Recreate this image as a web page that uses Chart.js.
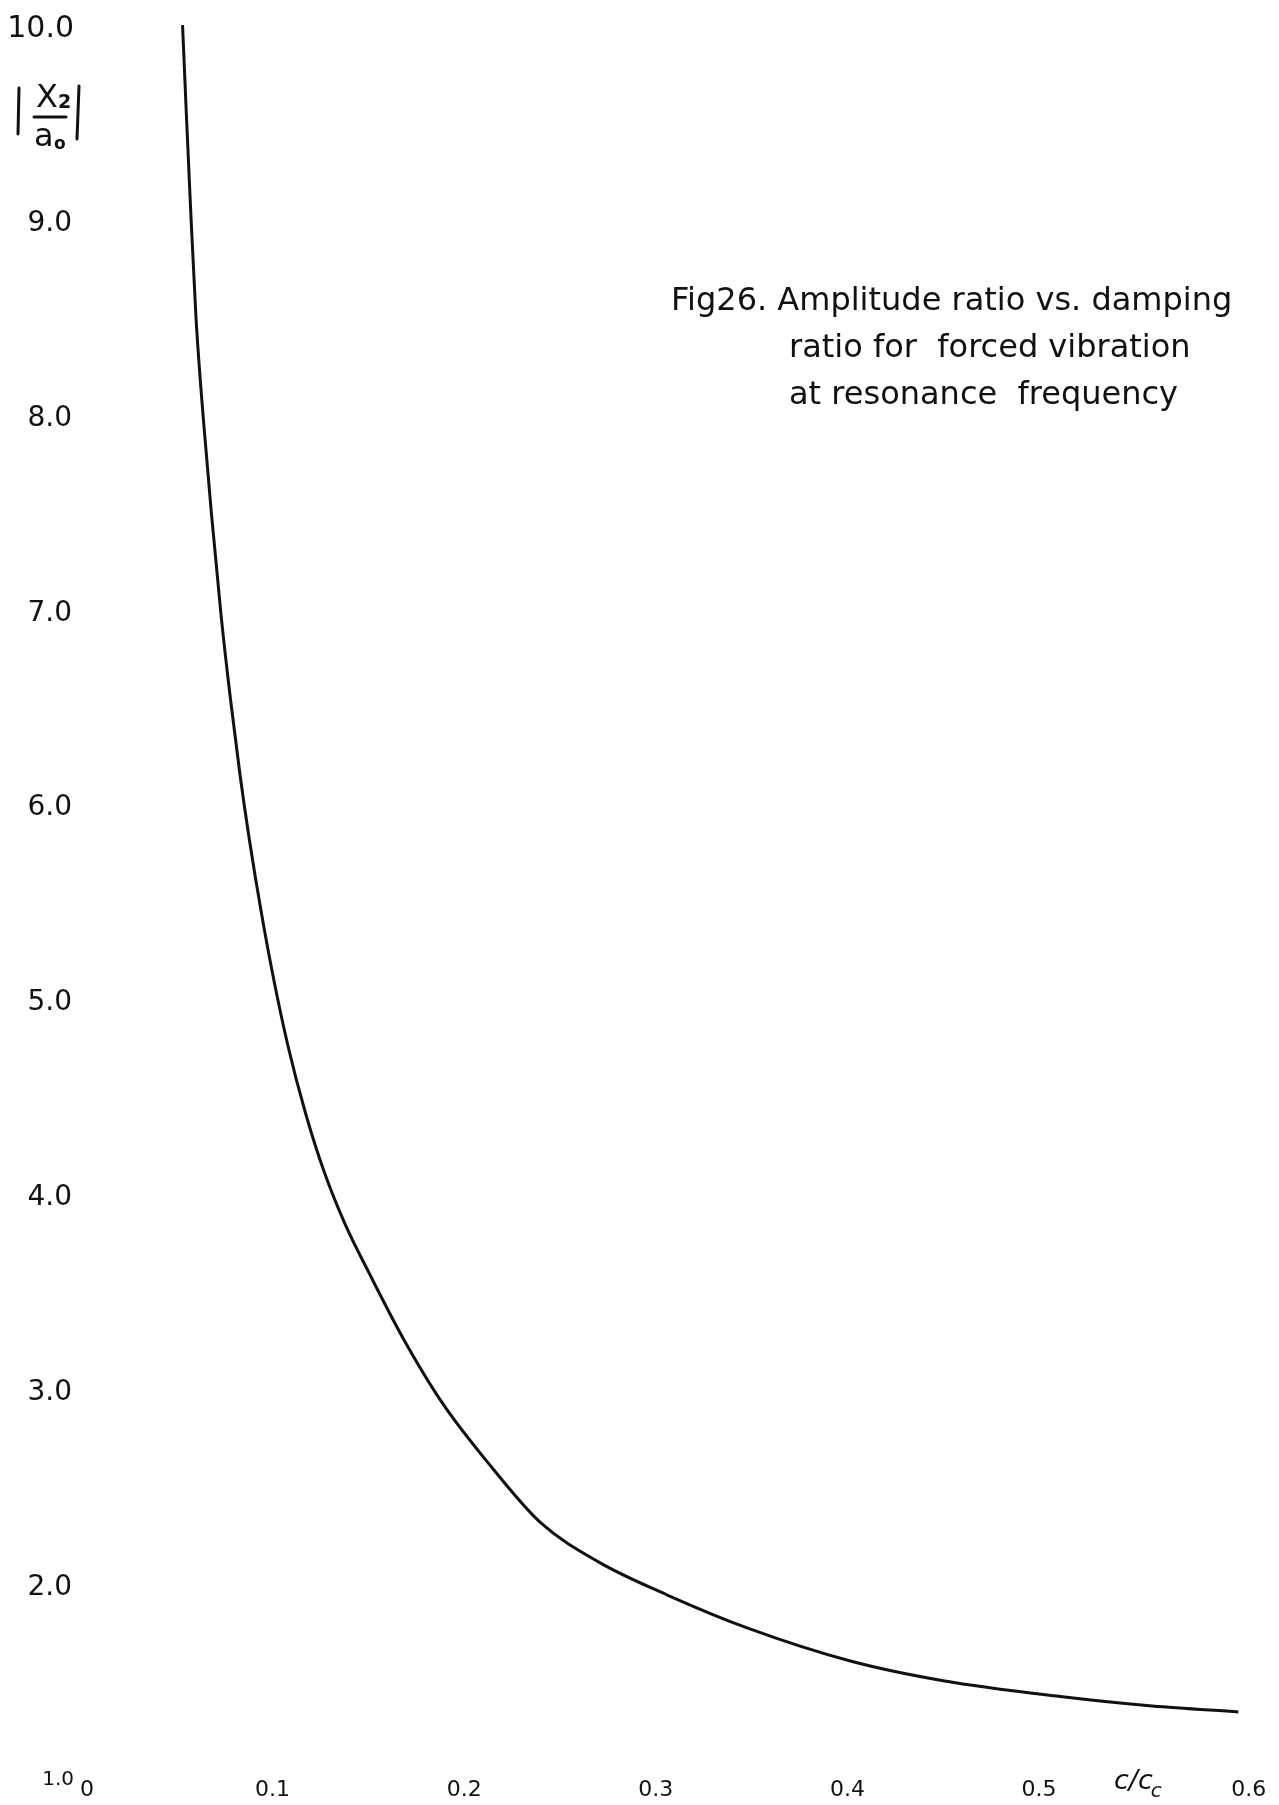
<!DOCTYPE html>
<html>
<head>
<meta charset="utf-8">
<script src="https://cdn.jsdelivr.net/npm/chart.js@4.4.1/dist/chart.umd.min.js"></script>
<style>
  html, body { margin: 0; padding: 0; background: #ffffff; }
  #wrap { width: 1279px; height: 1805px; position: relative; }
  canvas { display: block; }
</style>
</head>
<body>
<div id="wrap"><canvas id="chart" width="1279" height="1805"></canvas></div>
<script>
// Damping ratio c/cc along the horizontal axis
const dampingRatio = [0.053, 0.055, 0.057, 0.060, 0.064, 0.068, 0.073, 0.078, 0.083, 0.088,
                      0.094, 0.100, 0.108, 0.117, 0.127, 0.138, 0.150, 0.168, 0.189, 0.214,
                      0.240, 0.270, 0.306, 0.348, 0.402, 0.450, 0.510, 0.559, 0.604];
// Amplitude ratio |X2/a0| at resonance
const amplitudeRatio = [10.02, 9.56, 9.12, 8.52, 7.98, 7.52, 7.00, 6.56, 6.17, 5.83,
                        5.47, 5.15, 4.78, 4.44, 4.13, 3.86, 3.62, 3.28, 2.94, 2.62,
                        2.33, 2.13, 1.96, 1.79, 1.62, 1.52, 1.44, 1.39, 1.36];

const xTickValues = [0, 0.1, 0.2, 0.3, 0.4, 0.5, 0.6];
const xTickLabels = ["0", "0.1", "0.2", "0.3", "0.4", "0.5", "0.6"];
const yTickValues = [1, 2, 3, 4, 5, 6, 7, 8, 9, 10];
const yTickLabels = ["1.0", "2.0", "3.0", "4.0", "5.0", "6.0", "7.0", "8.0", "9.0", "10.0"];
const captionLines = [
  "Fig26. Amplitude ratio vs. damping",
  "ratio for  forced vibration",
  "at resonance  frequency"
];

const INK = "#111111";
const FONT = "'DejaVu Sans', sans-serif";

// Axis numbers, axis names and the caption, all placed from the scales
const annotations = {
  id: "annotations",
  afterDraw(chart) {
    const ctx = chart.ctx;
    const xs = chart.scales.x;
    const ys = chart.scales.y;
    ctx.save();
    ctx.fillStyle = INK;
    ctx.strokeStyle = INK;

    // vertical axis numbers
    ctx.textAlign = "right";
    ctx.textBaseline = "middle";
    yTickValues.forEach((v, i) => {
      const py = ys.getPixelForValue(v);
      if (i === 0) {
        ctx.font = "20px " + FONT;
        ctx.fillText(yTickLabels[i], 74, py - 2);
      } else if (i === yTickValues.length - 1) {
        ctx.font = "30px " + FONT;
        ctx.fillText(yTickLabels[i], 74, py);
      } else {
        ctx.font = "28px " + FONT;
        ctx.fillText(yTickLabels[i], 72, py);
      }
    });

    // horizontal axis numbers (first and last written slightly to the right)
    ctx.textAlign = "center";
    ctx.font = "22px " + FONT;
    xTickValues.forEach((v, i) => {
      const px = xs.getPixelForValue(v);
      let shift = 0;
      if (i === 0) shift = 6;
      if (i === xTickValues.length - 1) shift = 18;
      ctx.fillText(xTickLabels[i], px + shift, 1790);
    });

    // horizontal axis name: c/cc
    ctx.textAlign = "left";
    ctx.font = "italic 27px " + FONT;
    const cx = 1114;
    ctx.fillText("c/c", cx, 1782);
    const w = ctx.measureText("c/c").width;
    ctx.font = "italic 20px " + FONT;
    ctx.fillText("c", cx + w - 2, 1792);

    // vertical axis name: |X2 / a0|
    ctx.lineWidth = 3;
    ctx.lineCap = "round";
    ctx.beginPath();
    ctx.moveTo(19, 88); ctx.lineTo(18, 134);
    ctx.moveTo(79, 86); ctx.lineTo(77, 139);
    ctx.moveTo(34, 117); ctx.lineTo(66, 117);
    ctx.stroke();
    ctx.textBaseline = "alphabetic";
    ctx.font = "32px " + FONT;
    ctx.fillText("X", 36, 107);
    ctx.font = "bold 19px " + FONT;
    ctx.fillText("2", 58, 108);
    ctx.font = "32px " + FONT;
    ctx.fillText("a", 34, 146);
    ctx.font = "bold 17px " + FONT;
    ctx.fillText("o", 54, 149);

    // caption
    ctx.font = "32px " + FONT;
    ctx.textBaseline = "middle";
    ctx.fillText(captionLines[0], 671, 302);
    ctx.fillText(captionLines[1], 789, 349);
    ctx.fillText(captionLines[2], 789, 396);

    ctx.restore();
  }
};

new Chart(document.getElementById("chart"), {
  type: "line",
  data: {
    datasets: [{
      data: dampingRatio.map((x, i) => ({ x: x, y: amplitudeRatio[i] })),
      borderColor: INK,
      borderWidth: 3,
      pointRadius: 0,
      fill: false,
      cubicInterpolationMode: "monotone",
      clip: false
    }]
  },
  options: {
    responsive: false,
    animation: false,
    devicePixelRatio: 1,
    layout: { padding: { left: 81, right: 10, top: 29, bottom: 23 } },
    plugins: { legend: { display: false }, tooltip: { enabled: false }, title: { display: false } },
    scales: {
      x: { type: "linear", min: 0, max: 0.62, display: false },
      y: { type: "linear", min: 1, max: 10, display: false }
    }
  },
  plugins: [annotations]
});
</script>
</body>
</html>
